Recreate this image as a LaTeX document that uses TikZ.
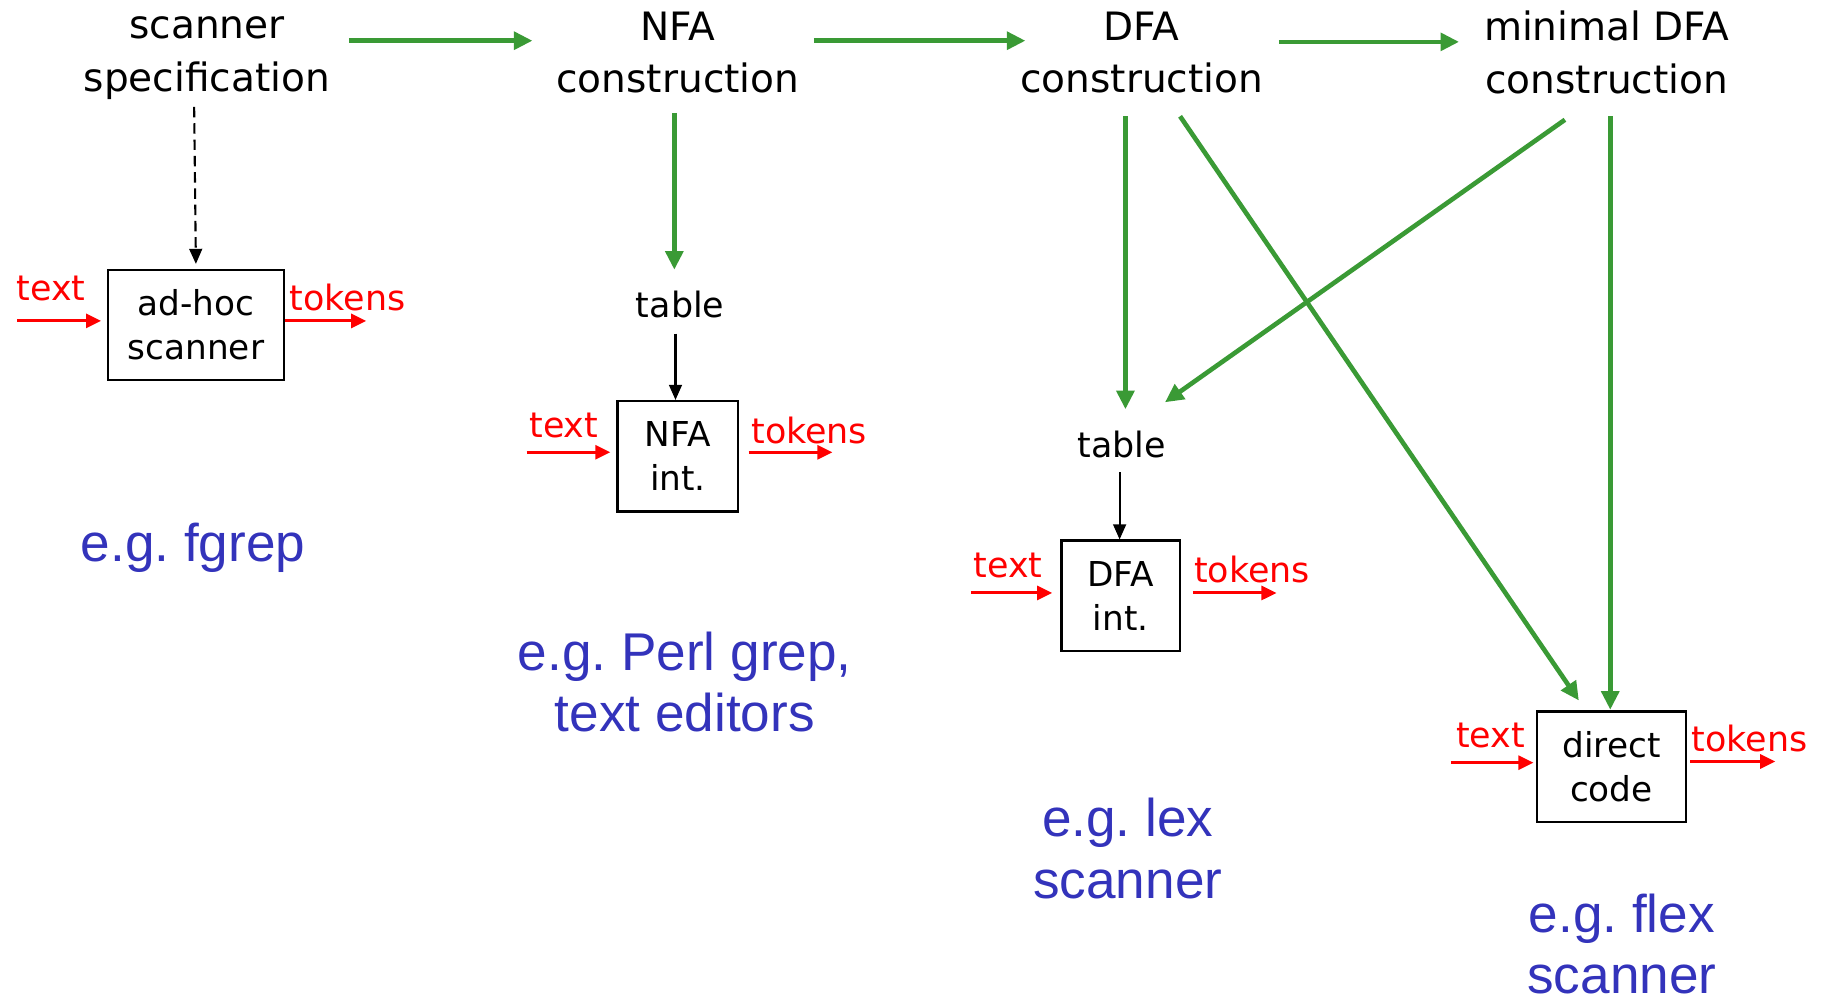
\documentclass[tikz,border=0pt]{standalone}
\usepackage{fontspec}
\setmainfont{DejaVu Sans}
\newfontfamily\bluefont{Liberation Sans}
\usetikzlibrary{arrows.meta}
\definecolor{garr}{RGB}{58,154,53}
\definecolor{eblue}{RGB}{51,51,187}
\definecolor{rred}{RGB}{255,0,0}
\begin{document}
\frenchspacing
\begin{tikzpicture}[x=0.5pt,y=-0.5pt,
 title/.style={align=center,inner sep=0pt,font=\fontsize{16.8}{22.5}\selectfont},
 boxnode/.style={draw,line width=1pt,align=center,minimum height=47.5pt,inner sep=0pt,font=\fontsize{14.75}{19}\selectfont},
 lbl/.style={text=rred,inner sep=0pt,font=\fontsize{15}{18}\selectfont},
 tbl/.style={inner sep=0pt,font=\fontsize{15}{18}\selectfont},
 eg/.style={text=eblue,align=center,inner sep=0pt,font=\bluefont\fontsize{22.85}{26.5}\selectfont\frenchspacing},
 garrow/.style={draw=garr,line width=2pt,-{Triangle[length=8pt,width=7.5pt]}},
 barrow/.style={draw=black,line width=0.9pt,-{Triangle[length=6.5pt,width=5.5pt]}},
 rarrow/.style={draw=rred,line width=1.3pt,-{Triangle[length=6.5pt,width=6pt]}},
]
\useasboundingbox (0,0) rectangle (1568,864);

% titles
\node[title] (spec) at (178,50) {scanner\\specification};
\node[title] (nfac) at (583,45) {NFA\\construction};
\node[title] (dfac) at (982,45) {DFA\\construction};
\node[title] (mdfac) at (1382,45) {minimal DFA\\construction};

% tables
\node[tbl] (tabN) at (585,262) {table};
\node[tbl] (tabD) at (965,382) {table};

% boxes
\node[boxnode,minimum width=75.5pt] (adhoc) at (168.5,279.5) {ad-hoc\\scanner};
\node[boxnode,minimum width=52pt] (nfaint) at (583,392.5) {NFA\\int.};
\node[boxnode,minimum width=51pt] (dfaint) at (964,512.5) {DFA\\int.};
\node[boxnode,minimum width=64pt] (direct) at (1386,659.5) {direct\\code};

% red labels
\node[lbl] (t1) at (44,248) {text};
\node[lbl] (k1) at (299,256) {tokens};
\node[lbl] (t2) at (485,366) {text};
\node[lbl] (k2) at (696,370) {tokens};
\node[lbl] (t3) at (867,486) {text};
\node[lbl] (k3) at (1077,490) {tokens};
\node[lbl] (t4) at (1282,633) {text};
\node[lbl] (k4) at (1505,635) {tokens};

% examples
\node[eg] (eg1) at (166,471) {e.g. fgrep};
\node[eg] (eg2) at (589,586.5) {e.g. Perl grep,\\text editors};
\node[eg] (eg3) at (970,730) {e.g. lex\\scanner};
\node[eg] (eg4) at (1395,812) {e.g. flex\\scanner};

% green arrows
\draw[garrow] ([shift={(122,-15)}]spec.center) -- ([shift={(-125,-10)}]nfac.center);
\draw[garrow] ([shift={(117,-10)}]nfac.center) -- ([shift={(-100,-10)}]dfac.center);
\draw[garrow] ([shift={(118,-9)}]dfac.center) -- ([shift={(-127,-9)}]mdfac.center);
\draw[garrow] ([shift={(-3,52)}]nfac.center) -- ([shift={(-5,-30)}]tabN.center);
\draw[garrow] ([shift={(-14,55)}]dfac.center) -- ([shift={(3,-30)}]tabD.center);
\draw[garrow] ([shift={(33,55)}]dfac.center) -- ([shift={(-28,-57)}]direct.center);
\draw[garrow] ([shift={(-36,58)}]mdfac.center) -- ([shift={(37,-36)}]tabD.center);
\draw[garrow] ([shift={(3,55)}]mdfac.center) -- ([shift={(-1,-49)}]direct.center);

% black arrows
\draw[barrow,dash pattern=on 4.5pt off 2.5pt] ([shift={(-11,42)}]spec.center) -- ([yshift=2pt]adhoc.north);
\draw[barrow] ([shift={(-4,25)}]tabN.center) -- ([xshift=-1pt]nfaint.north);
\draw[barrow] ([shift={(-2,24)}]tabD.center) -- ([xshift=-0.5pt]dfaint.north);

% red arrows
\coordinate (i1) at (15,276);
\coordinate (o1) at (315,276);
\coordinate (i2) at (453,389);
\coordinate (o2) at (716,389);
\coordinate (i3) at (835,510);
\coordinate (o3) at (1098,510);
\coordinate (i4) at (1248,656);
\coordinate (o4) at (1527,655);
\draw[rarrow] (i1) -- ([xshift=-2.5pt]adhoc.west |- i1);
\draw[rarrow] (adhoc.east |- o1) -- (o1);
\draw[rarrow] (i2) -- ([xshift=-2.5pt]nfaint.west |- i2);
\draw[rarrow] ([xshift=4pt]nfaint.east |- o2) -- (o2);
\draw[rarrow] (i3) -- ([xshift=-3.5pt]dfaint.west |- i3);
\draw[rarrow] ([xshift=5pt]dfaint.east |- o3) -- (o3);
\draw[rarrow] (i4) -- ([xshift=-1pt]direct.west |- i4);
\draw[rarrow] ([xshift=1.5pt]direct.east |- o4) -- (o4);
\end{tikzpicture}
\end{document}
